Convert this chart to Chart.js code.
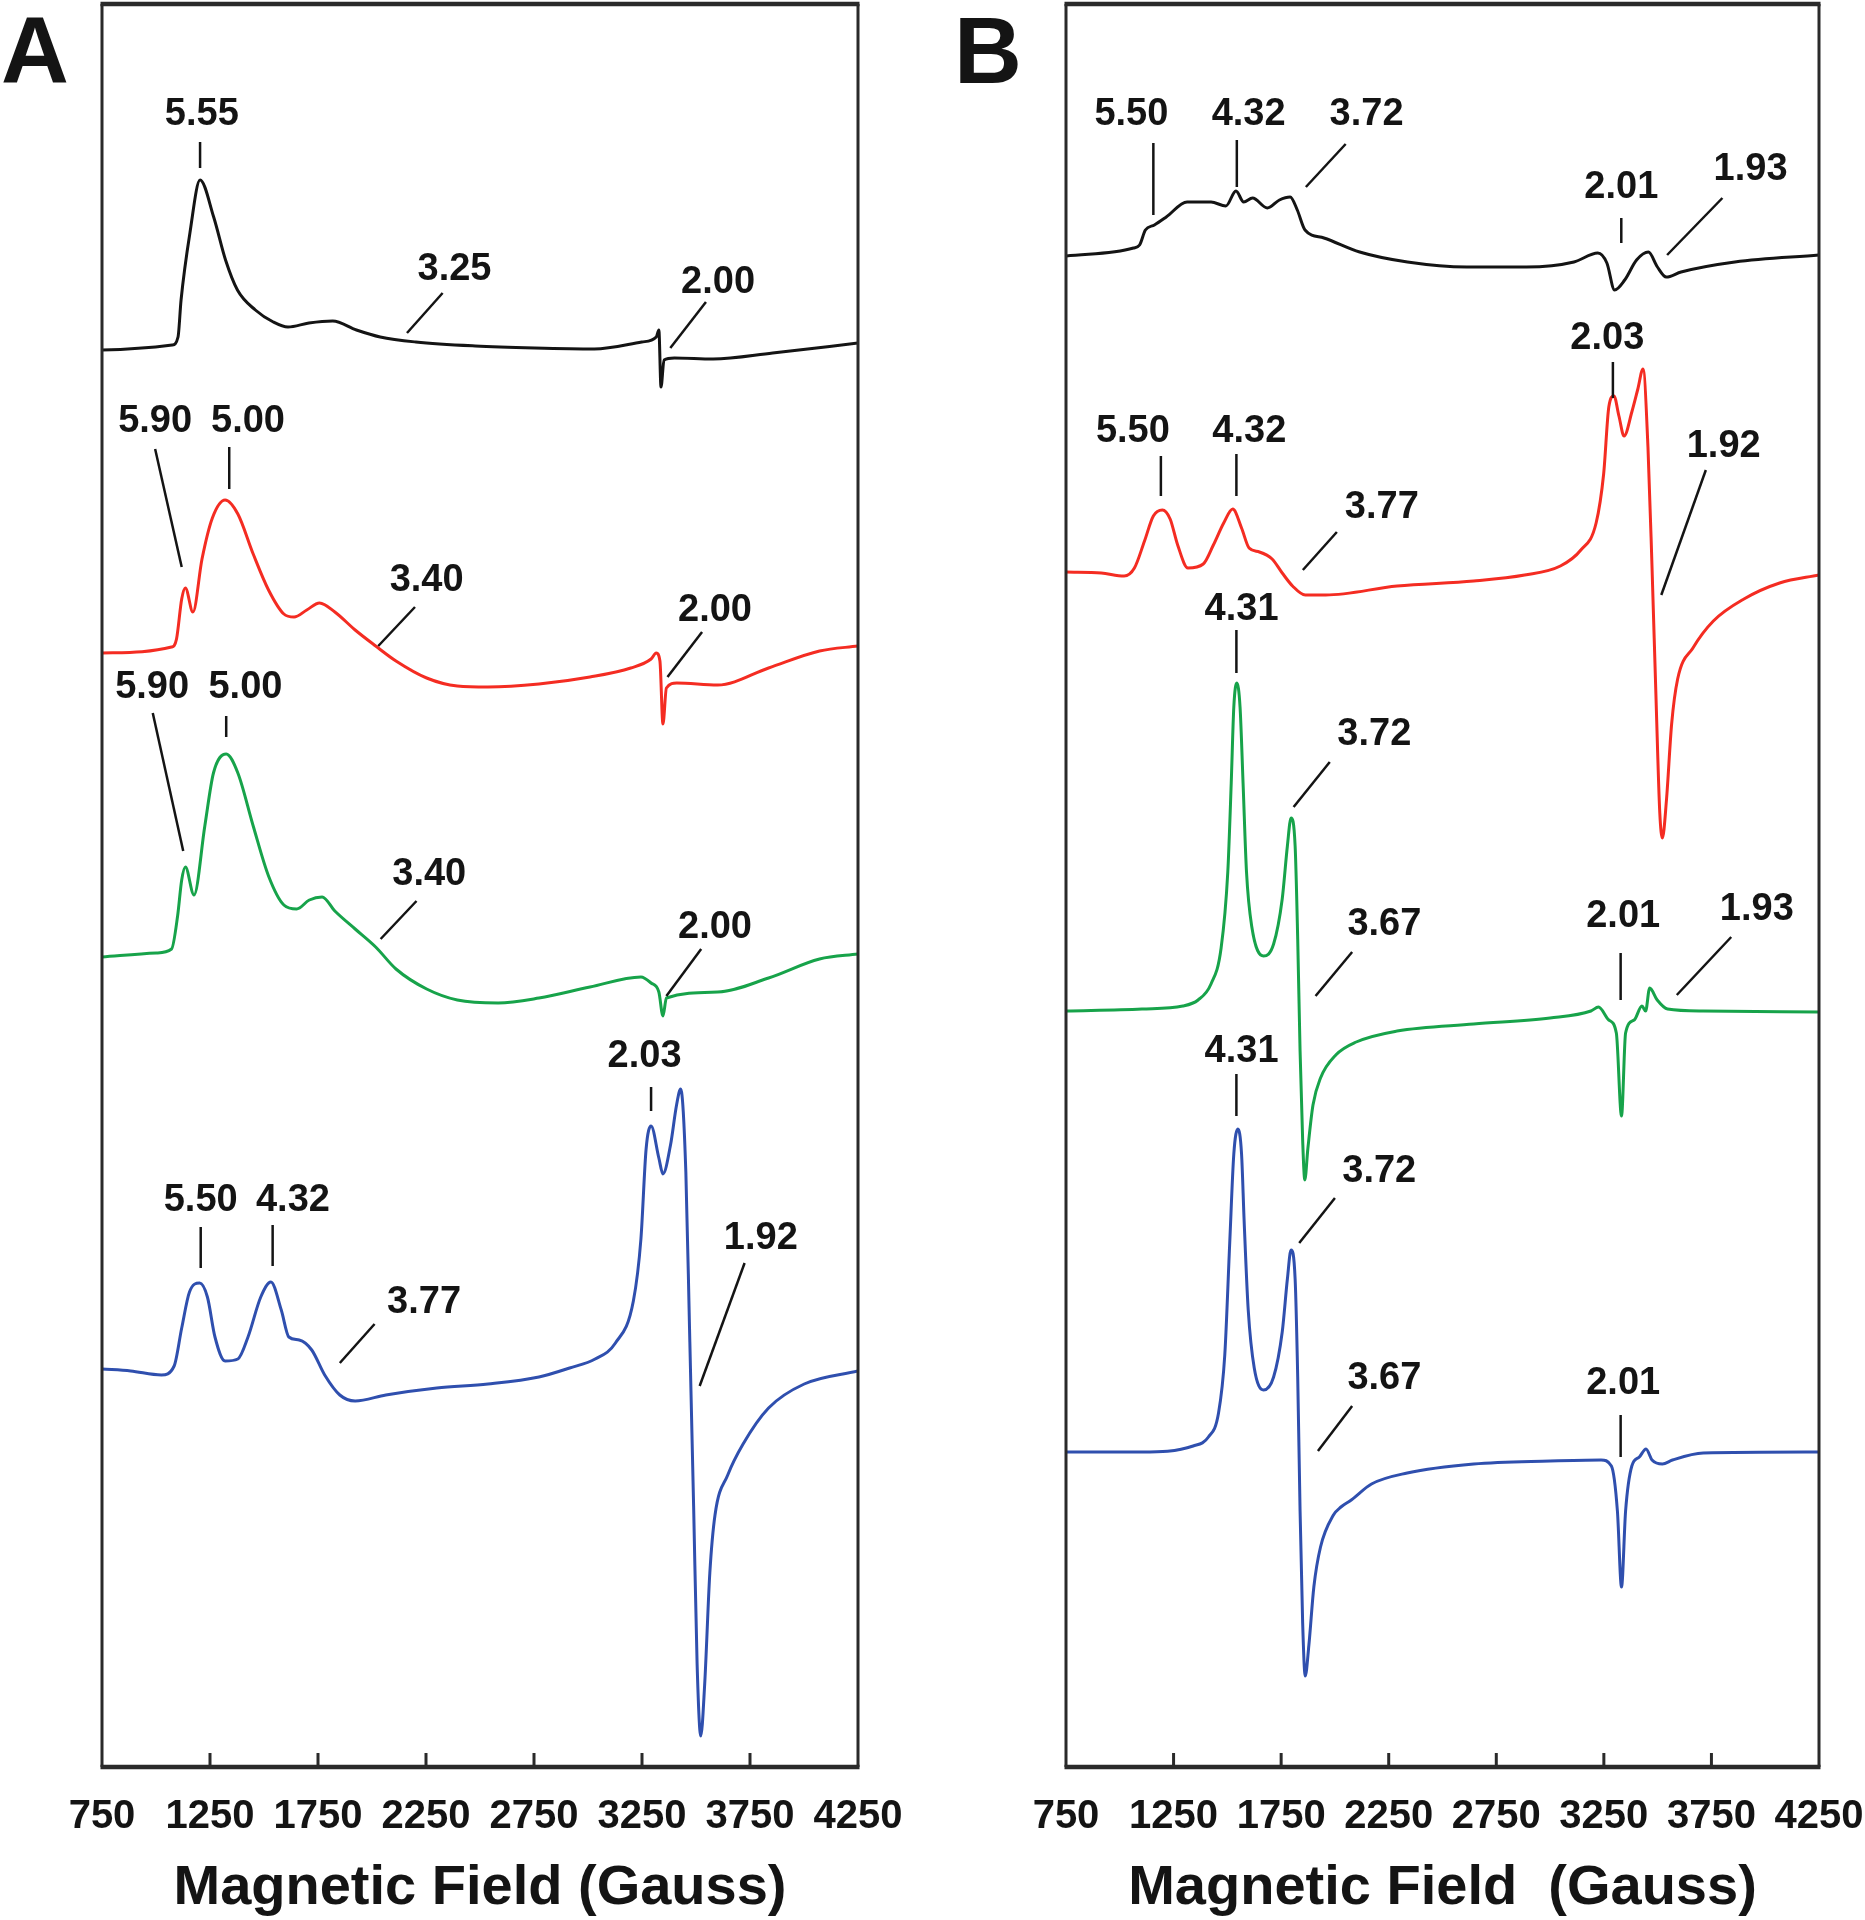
<!DOCTYPE html>
<html>
<head>
<meta charset="utf-8">
<script src="https://cdn.jsdelivr.net/npm/chart.js@4.4.0/dist/chart.umd.min.js"></script>
<style>
  html, body { margin: 0; padding: 0; background: #fff; }
  #wrap { position: relative; width: 1865px; height: 1920px; }
  .panel { position: absolute; top: 0; height: 1920px; }
</style>
</head>
<body>
<div id="wrap">
  <div class="panel" style="left:0;width:932px"><canvas id="chartA"></canvas></div>
  <div class="panel" style="left:932px;width:933px"><canvas id="chartB"></canvas></div>
</div>
<script>
// x ticks (Gauss)
var tickValues = [750, 1250, 1750, 2250, 2750, 3250, 3750, 4250];

// ---- panel A traces: field (G) and signal (arbitrary, stacked) ----
var aBlackField = [750,1075,1102,1116,1157,1204,1267,1322,1377,1460,1543,1611,1708,1818,1928,2038,2203,2478,2753,3029,3249,3316,3328,3338,3352,3400,3579,3855,4250];
var aBlackSignal = [1417,1422,1430,1467,1534,1587,1550,1507,1477,1457,1445,1440,1444,1446,1437,1430,1425,1421,1419,1418,1425,1430,1437,1380,1407,1409,1408,1414,1424];

var aRedField = [750,1072,1095,1119,1136,1171,1213,1261,1320,1379,1450,1521,1592,1639,1698,1757,1828,1922,2017,2111,2253,2395,2537,2773,3009,3198,3292,3316,3333,3347,3363,3411,3600,3836,4072,4250];
var aRedSignal = [1114,1120,1128,1168,1179,1155,1208,1249,1267,1253,1213,1177,1153,1150,1157,1164,1155,1137,1121,1106,1089,1081,1080,1083,1090,1099,1108,1114,1106,1043,1079,1084,1082,1099,1116,1121];

var aGreenField = [750,1001,1072,1100,1119,1136,1176,1226,1266,1325,1379,1450,1521,1592,1651,1710,1769,1828,1922,2017,2111,2253,2395,2584,2773,3009,3245,3292,3328,3347,3363,3600,3836,4072,4250];
var aGreenSignal = [810,814,818,851,887,900,872,941,994,1013,994,941,891,862,858,867,870,856,838,820,798,778,767,764,769,780,790,784,775,751,769,775,789,808,813];

var aBlueField = [750,883,1025,1084,1119,1155,1202,1238,1273,1320,1379,1426,1485,1532,1580,1615,1663,1721,1781,1851,1922,2064,2300,2537,2773,2915,3033,3127,3210,3245,3269,3292,3328,3347,3382,3410,3429,3453,3470,3489,3505,3522,3540,3564,3588,3647,3718,3836,4001,4250];
var aBlueSignal = [398,396,392,401,439,475,484,470,430,406,408,430,470,485,457,430,427,417,392,372,366,372,379,383,390,399,408,424,466,528,618,641,609,593,622,662,678,595,439,261,104,31,82,194,252,292,323,359,383,396];

// ---- panel B traces ----
var bBlackField = [750,1064,1092,1119,1161,1216,1313,1424,1493,1540,1576,1617,1686,1742,1792,1825,1861,1949,2115,2337,2613,2890,3111,3222,3264,3300,3347,3402,3457,3499,3540,3609,3859,4250];
var bBlackSignal = [1511,1519,1522,1537,1542,1550,1565,1565,1561,1576,1565,1569,1559,1567,1570,1557,1537,1529,1515,1505,1500,1500,1505,1514,1504,1477,1487,1507,1515,1500,1490,1495,1505,1512];

var bRedField = [750,914,1020,1068,1115,1156,1198,1234,1269,1317,1388,1435,1483,1525,1566,1601,1649,1708,1755,1803,1862,1957,2289,2645,2882,3048,3143,3214,3249,3273,3297,3320,3344,3380,3408,3432,3455,3474,3493,3510,3522,3541,3565,3593,3664,3759,3901,4067,4250];
var bRedSignal = [1195,1194,1191,1199,1226,1251,1257,1248,1222,1199,1203,1222,1244,1258,1239,1219,1215,1208,1194,1181,1172,1172,1181,1186,1192,1201,1217,1244,1293,1360,1371,1351,1331,1355,1378,1398,1320,1199,1065,954,929,967,1043,1088,1119,1146,1168,1184,1192];

var bGreenField = [750,1103,1293,1364,1424,1471,1502,1518,1530,1544,1559,1573,1589,1613,1668,1715,1755,1779,1796,1815,1827,1838,1850,1860,1874,1898,1933,2004,2099,2289,2645,3000,3190,3225,3273,3308,3332,3351,3391,3427,3444,3463,3498,3546,3712,4250];
var bGreenSignal = [756,758,761,767,783,819,895,984,1060,1084,1060,984,895,841,811,823,868,921,949,921,828,716,627,587,618,662,689,712,725,736,743,749,756,760,747,734,651,734,747,761,756,779,767,758,756,755];

var bBlueField = [750,1103,1341,1412,1459,1488,1511,1530,1549,1566,1578,1597,1625,1668,1715,1755,1779,1796,1815,1827,1838,1850,1862,1879,1902,1933,1993,2028,2076,2170,2336,2645,3000,3237,3285,3313,3332,3351,3380,3415,3446,3474,3522,3569,3712,4250];
var bBlueSignal = [315,315,321,330,354,412,524,613,638,613,546,457,399,377,390,435,488,517,488,390,256,144,91,122,180,220,252,260,267,283,294,303,306,307,301,256,180,256,301,310,318,307,303,307,314,315];

// g-value labels: text, label x/y, leader from x/y, leader to x/y (data units)
var notesA = [
  ['5.55',1212,1652,1204,1625,1204,1599],
  ['3.25',2382,1497,2327,1474,2162,1434],
  ['2.00',3602,1484,3546,1465,3381,1419],
  ['5.90',996,1345,996,1318,1119,1200],
  ['5.00',1426,1345,1339,1320,1339,1278],
  ['3.40',2253,1186,2199,1160,2029,1121],
  ['2.00',3588,1156,3528,1135,3368,1090],
  ['5.90',982,1079,985,1054,1126,916],
  ['5.00',1414,1079,1325,1051,1325,1030],
  ['3.40',2265,892,2206,866,2040,828],
  ['2.00',3588,839,3524,818,3363,771],
  ['2.03',3262,710,3292,680,3292,656],
  ['5.50',1207,566,1207,540,1207,499],
  ['4.32',1634,566,1540,542,1540,501],
  ['3.77',2241,464,2012,443,1851,404],
  ['1.92',3800,528,3725,504,3517,381]
];
var notesB = [
  ['5.50',1054,1652,1156,1624,1156,1552],
  ['4.32',1599,1652,1544,1627,1544,1580],
  ['3.72',2147,1652,2050,1623,1865,1580],
  ['2.01',3331,1579,3331,1549,3331,1524],
  ['1.93',3932,1597,3801,1569,3544,1512],
  ['2.03',3266,1428,3292,1405,3292,1369],
  ['5.50',1061,1335,1191,1311,1191,1271],
  ['4.32',1602,1335,1542,1313,1542,1271],
  ['3.77',2218,1259,2009,1235,1851,1197],
  ['1.92',3807,1320,3724,1297,3517,1172],
  ['4.31',1566,1157,1542,1137,1542,1094],
  ['3.72',2183,1032,1976,1005,1808,960],
  ['3.67',2230,842,2080,815,1910,771],
  ['2.01',3340,850,3328,814,3328,767],
  ['1.93',3961,857,3842,830,3589,772],
  ['4.31',1566,715,1542,693,1542,651],
  ['3.72',2206,595,2000,569,1834,524],
  ['3.67',2230,388,2080,361,1921,316],
  ['2.01',3340,383,3328,352,3328,310]
];

var FONT = '"Liberation Sans", Arial, Helvetica, sans-serif';
var colors = { black: '#141414', red: '#f42c22', green: '#17a34a', blue: '#2f4fae' };

function pts(xs, ys) {
  return xs.map(function (x, i) { return { x: x, y: ys[i] }; });
}

function trace(xs, ys, color) {
  return {
    data: pts(xs, ys),
    borderColor: color,
    borderWidth: 3,
    pointRadius: 0,
    fill: false,
    cubicInterpolationMode: 'monotone'
  };
}

var framePlugin = {
  id: 'frame',
  afterDatasetsDraw: function (chart, args, opts) {
    var ctx = chart.ctx, a = chart.chartArea;
    var x = chart.scales.x, y = chart.scales.y;
    ctx.save();
    ctx.strokeStyle = '#2a2a2a';
    // inward ticks
    ctx.lineWidth = 3;
    tickValues.slice(1, -1).forEach(function (v) {
      var px = x.getPixelForValue(v);
      ctx.beginPath();
      ctx.moveTo(px, a.bottom);
      ctx.lineTo(px, a.bottom - 14);
      ctx.stroke();
    });
    // box
    ctx.lineWidth = 3;
    ctx.beginPath();
    ctx.moveTo(a.left, a.top); ctx.lineTo(a.left, a.bottom);
    ctx.moveTo(a.right, a.top); ctx.lineTo(a.right, a.bottom);
    ctx.stroke();
    ctx.lineWidth = 4.5;
    ctx.beginPath();
    ctx.moveTo(a.left - 1.5, a.top); ctx.lineTo(a.right + 1.5, a.top);
    ctx.moveTo(a.left - 1.5, a.bottom); ctx.lineTo(a.right + 1.5, a.bottom);
    ctx.stroke();
    // g-value labels
    ctx.strokeStyle = '#141414';
    ctx.fillStyle = '#141414';
    ctx.lineWidth = 2.5;
    ctx.font = 'bold 38px ' + FONT;
    ctx.textAlign = 'center';
    ctx.textBaseline = 'middle';
    opts.notes.forEach(function (n) {
      ctx.fillText(n[0], x.getPixelForValue(n[1]), y.getPixelForValue(n[2]));
      ctx.beginPath();
      ctx.moveTo(x.getPixelForValue(n[3]), y.getPixelForValue(n[4]));
      ctx.lineTo(x.getPixelForValue(n[5]), y.getPixelForValue(n[6]));
      ctx.stroke();
    });
    // panel letter
    ctx.font = 'bold 94px ' + FONT;
    ctx.textBaseline = 'alphabetic';
    ctx.fillText(opts.letter, opts.letterX, 83);
    ctx.restore();
  }
};

function makePanel(id, datasets, notes, letter, letterX, padL, padR, title) {
  new Chart(document.getElementById(id), {
    type: 'line',
    data: { datasets: datasets },
    plugins: [framePlugin],
    options: {
      responsive: true,
      maintainAspectRatio: false,
      animation: false,
      layout: { padding: { left: padL, right: padR, top: 4, bottom: 0 } },
      plugins: {
        legend: { display: false },
        tooltip: { enabled: false },
        frame: { notes: notes, letter: letter, letterX: letterX }
      },
      scales: {
        x: {
          type: 'linear',
          min: 750,
          max: 4250,
          afterBuildTicks: function (scale) {
            scale.ticks = tickValues.map(function (v) { return { value: v }; });
          },
          afterFit: function (scale) {
            scale.height = 153;
            scale.paddingLeft = 0;
            scale.paddingRight = 0;
          },
          grid: { display: false, drawTicks: false },
          border: { display: false },
          ticks: {
            autoSkip: false,
            maxRotation: 0,
            padding: 26,
            color: '#141414',
            font: { family: FONT, size: 40, weight: 'bold', lineHeight: 1.2 },
            callback: function (v) { return String(v); }
          },
          title: {
            display: true,
            text: title,
            color: '#141414',
            font: { family: FONT, size: 56, weight: 'bold', lineHeight: 1.12 },
            padding: { top: 0, bottom: 0 }
          }
        },
        y: { display: false, min: 0, max: 1763 }
      }
    }
  });
}

makePanel('chartA', [
  trace(aBlackField, aBlackSignal, colors.black),
  trace(aRedField, aRedSignal, colors.red),
  trace(aGreenField, aGreenSignal, colors.green),
  trace(aBlueField, aBlueSignal, colors.blue)
], notesA, 'A', 35, 102, 74, 'Magnetic Field (Gauss)');

makePanel('chartB', [
  trace(bBlackField, bBlackSignal, colors.black),
  trace(bRedField, bRedSignal, colors.red),
  trace(bGreenField, bGreenSignal, colors.green),
  trace(bBlueField, bBlueSignal, colors.blue)
], notesB, 'B', 56, 134, 46, 'Magnetic Field  (Gauss)');
</script>
</body>
</html>
